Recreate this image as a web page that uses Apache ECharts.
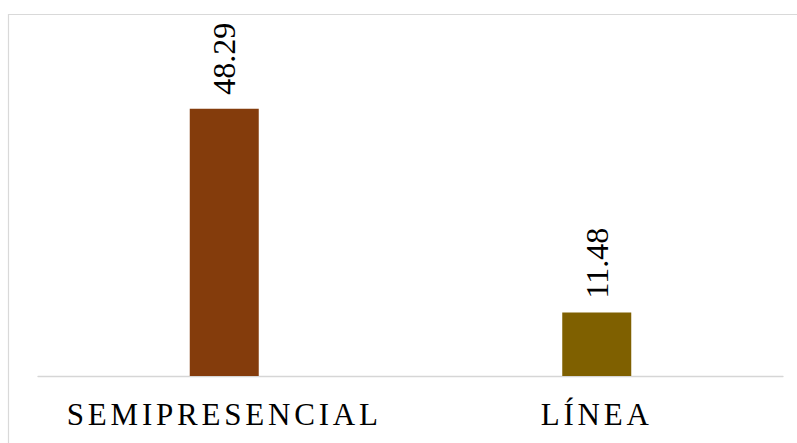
<!DOCTYPE html>
<html>
<head>
<meta charset="utf-8">
<script src="https://cdn.jsdelivr.net/npm/echarts@6/dist/echarts.min.js"></script>
<style>
html,body{margin:0;padding:0;background:#fff;}
#c{width:797px;height:443px;}
#c text[style*="31px"]{letter-spacing:3.8px;}
</style>
</head>
<body>
<div id="c"></div>
<script>
var categories = ['SEMIPRESENCIAL', 'LÍNEA'];
var values = [48.29, 11.48];
var barColors = ['#843C0C', '#7F6000'];
var yMax = 60;

var chart = echarts.init(document.getElementById('c'), null, {renderer: 'svg'});
chart.setOption({
  animation: false,
  backgroundColor: '#fff',
  graphic: [{
    type: 'rect',
    shape: {x: 8.5, y: 14.5, width: 1000, height: 1000},
    style: {fill: 'none', stroke: '#d9d9d9', lineWidth: 1.2},
    silent: true
  }],
  grid: {left: 38, right: 14, top: 44, bottom: 67},
  xAxis: {
    type: 'category',
    data: categories,
    axisTick: {show: false},
    axisLine: {lineStyle: {color: '#d6d6d6', width: 1.3}},
    axisLabel: {
      color: '#000',
      fontFamily: 'Liberation Serif',
      fontSize: 31,
      margin: 23
    }
  },
  yAxis: {
    type: 'value',
    min: 0,
    max: yMax,
    show: false,
    splitLine: {show: false}
  },
  series: [{
    type: 'bar',
    barWidth: 69,
    data: values.map(function (v, i) {
      return {value: v, itemStyle: {color: barColors[i]}};
    }),
    label: {
      show: true,
      position: 'top',
      rotate: 90,
      align: 'left',
      verticalAlign: 'middle',
      distance: 14,
      color: '#000',
      fontFamily: 'Liberation Serif',
      fontSize: 32,
      formatter: function (p) { return p.value.toFixed(2); }
    }
  }]
});
</script>
</body>
</html>
